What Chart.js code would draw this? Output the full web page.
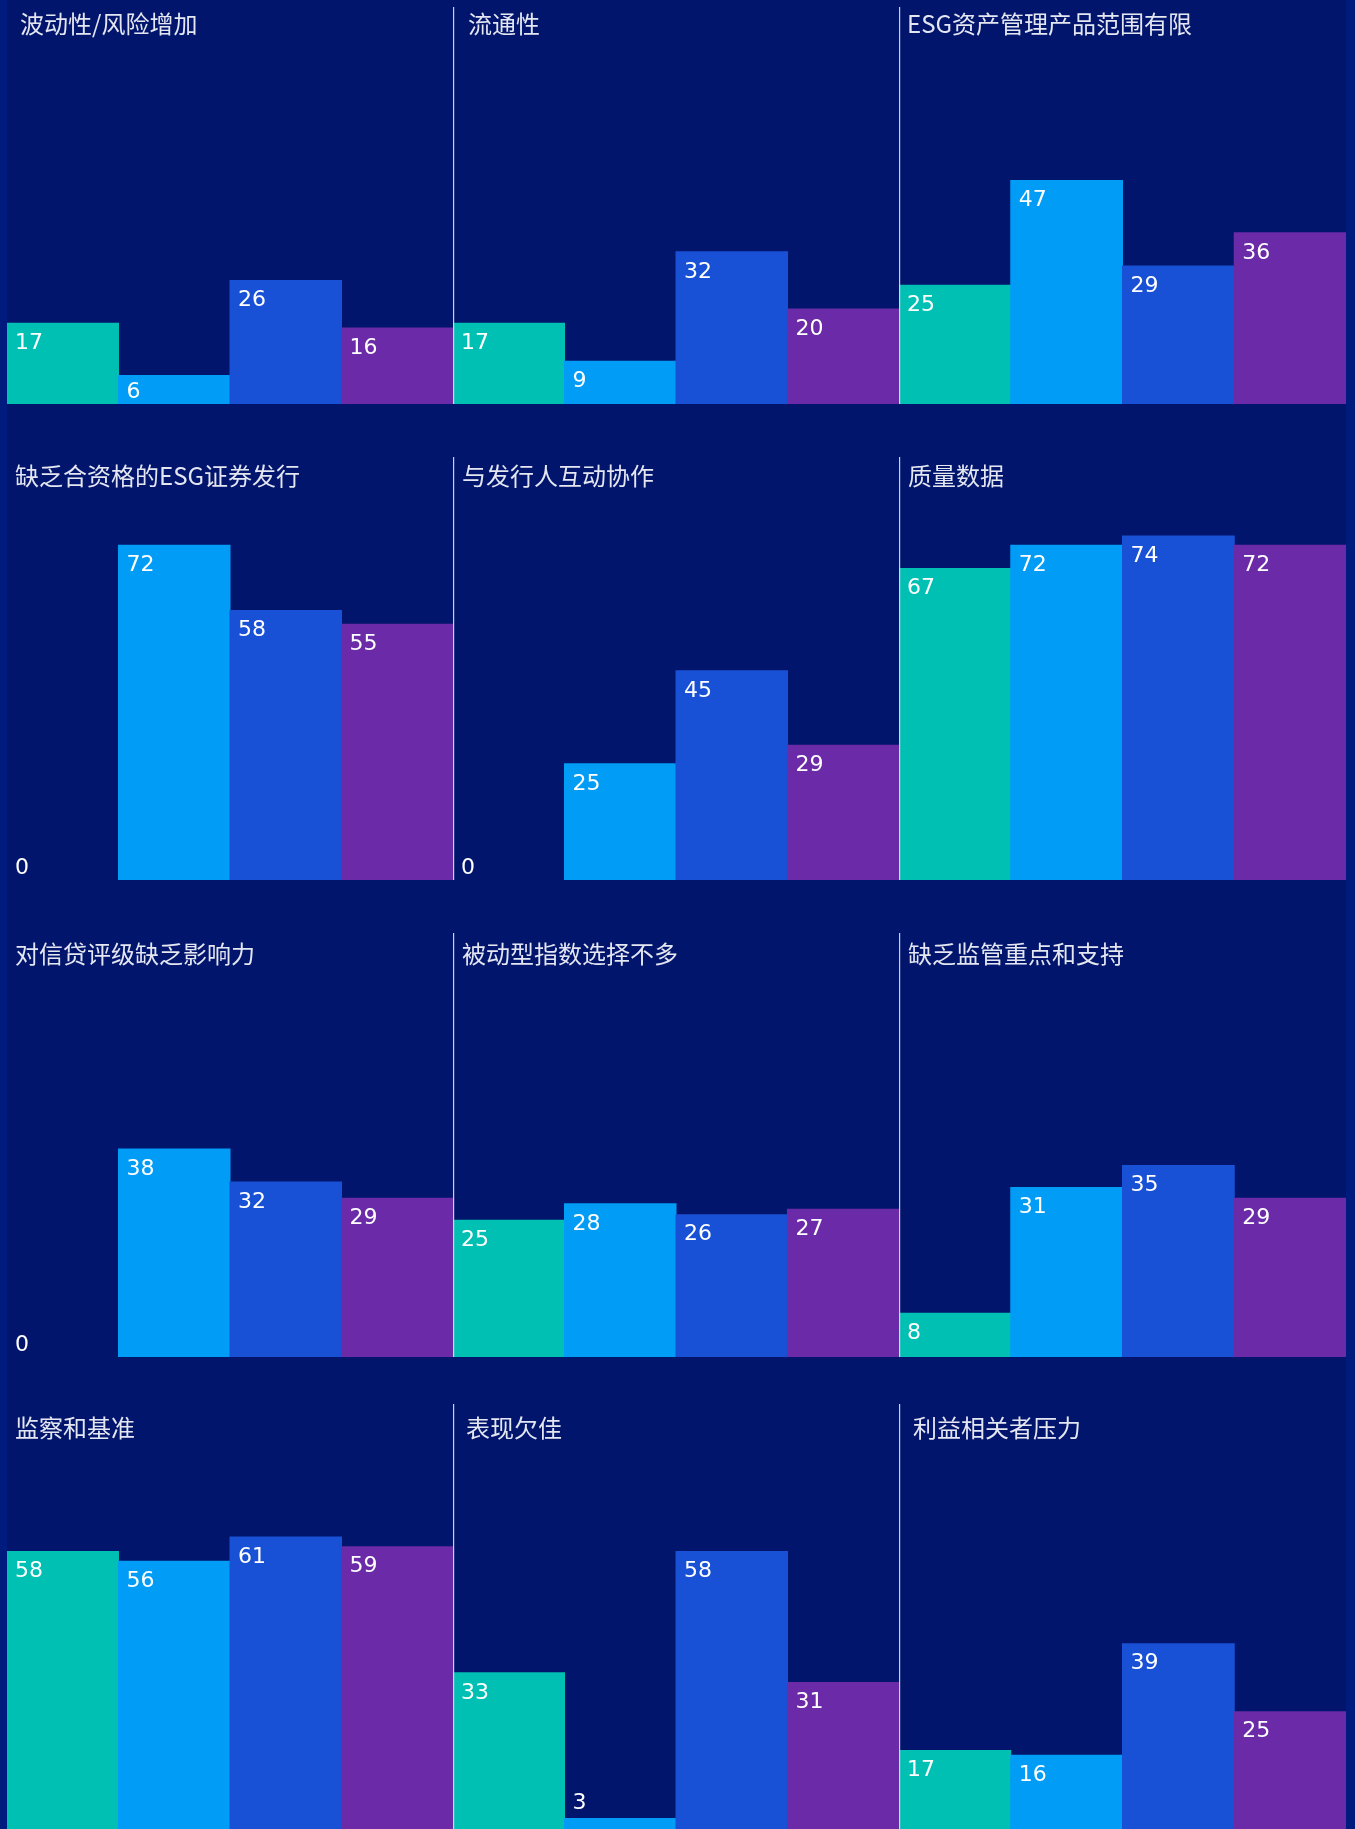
<!DOCTYPE html>
<html>
<head>
<meta charset="utf-8">
<script src="https://cdn.jsdelivr.net/npm/chart.js@4/dist/chart.umd.min.js"></script>
<style>
  html, body { margin: 0; padding: 0; }
  body { width: 1355px; height: 1829px; overflow: hidden; background: #001B7E; position: relative; }
  #stage { position: absolute; left: 7px; top: 0; width: 1339px; height: 1829px; background: #00156B; }
  canvas { position: absolute; }
</style>
</head>
<body>
<div id="stage"></div>
<script>
// ---- data ----
const panelTitles = [
  '波动性/风险增加', '流通性', 'ESG资产管理产品范围有限',
  '缺乏合资格的ESG证券发行', '与发行人互动协作', '质量数据',
  '对信贷评级缺乏影响力', '被动型指数选择不多', '缺乏监管重点和支持',
  '监察和基准', '表现欠佳', '利益相关者压力'
];
const groupLabels = ['组别一', '组别二', '组别三', '组别四'];
const seriesA = [17, 17, 25, 0, 0, 67, 0, 25, 8, 58, 33, 17];   // teal
const seriesB = [6, 9, 47, 72, 25, 72, 38, 28, 31, 56, 3, 16];  // light blue
const seriesC = [26, 32, 29, 58, 45, 74, 32, 26, 35, 61, 58, 39]; // blue
const seriesD = [16, 20, 36, 55, 29, 72, 29, 27, 29, 59, 31, 25]; // purple

// ---- styling / layout ----
const barColors = ['#00BFB3', '#009CF6', '#1851D5', '#6B2AA8'];
const rowTop = [7, 457, 933, 1404];
const rowBottom = [404, 880, 1357, 1833];
const rowAxisMax = [83.5, 91, 77.5, 88.4];
const rowTitleY = [17, 18.5, 20.5, 23.5];
const colLeft = [7, 453, 899];
const colWidth = [446, 446, 447];
const titleDx = [13, 15, 8,  8, 9, 9,  8, 9, 9,  8, 13, 14];

const decorPlugin = {
  id: 'panelDecor',
  afterDatasetsDraw(chart, args, opts) {
    const ctx = chart.ctx;
    const area = chart.chartArea;
    const meta = chart.getDatasetMeta(0);
    const data = chart.data.datasets[0].data;
    ctx.save();
    ctx.font = '22px "DejaVu Sans", sans-serif';
    ctx.fillStyle = '#FFFFFF';
    ctx.textAlign = 'left';
    ctx.textBaseline = 'middle';
    meta.data.forEach((bar, i) => {
      const v = data[i];
      const top = Math.min(bar.y, bar.base);
      const h = Math.abs(bar.base - bar.y);
      let y;
      if (v > 0 && h < 22) y = top - 15;
      else y = Math.min(top + 20, bar.base - 12);
      ctx.fillText(String(v), bar.x - bar.width / 2 + 8, y);
    });
    if (opts.divider) {
      ctx.strokeStyle = 'rgba(215,218,235,0.95)';
      ctx.lineWidth = 1.2;
      ctx.beginPath();
      ctx.moveTo(0.6, area.top);
      ctx.lineTo(0.6, area.bottom);
      ctx.stroke();
    }
    ctx.font = '24px "Noto Sans CJK SC", sans-serif';
    ctx.fillStyle = '#E4E6F2';
    ctx.fillText(opts.title, opts.titleX, opts.titleY);
    ctx.restore();
  }
};

const stage = document.body;
for (let p = 0; p < 12; p++) {
  const row = Math.floor(p / 3), col = p % 3;
  const cv = document.createElement('canvas');
  const w = colWidth[col], h = rowBottom[row] - rowTop[row];
  cv.width = w; cv.height = h;
  cv.style.left = colLeft[col] + 'px';
  cv.style.top = rowTop[row] + 'px';
  cv.style.width = w + 'px';
  cv.style.height = h + 'px';
  stage.appendChild(cv);
  new Chart(cv, {
    type: 'bar',
    data: {
      labels: groupLabels,
      datasets: [{
        data: [seriesA[p], seriesB[p], seriesC[p], seriesD[p]],
        backgroundColor: barColors,
        borderWidth: 0,
        inflateAmount: (c) => (c.raw === 0 ? 0 : 0.5),
        categoryPercentage: 1,
        barPercentage: 1
      }]
    },
    options: {
      responsive: false,
      animation: false,
      devicePixelRatio: 1,
      layout: { padding: 0 },
      scales: {
        x: { display: false, offset: true },
        y: { display: false, min: 0, max: rowAxisMax[row] }
      },
      plugins: {
        legend: { display: false },
        tooltip: { enabled: false },
        title: { display: false },
        panelDecor: {
          title: panelTitles[p],
          titleX: titleDx[p],
          titleY: rowTitleY[row],
          divider: col > 0
        }
      }
    },
    plugins: [decorPlugin]
  });
}
</script>
</body>
</html>
